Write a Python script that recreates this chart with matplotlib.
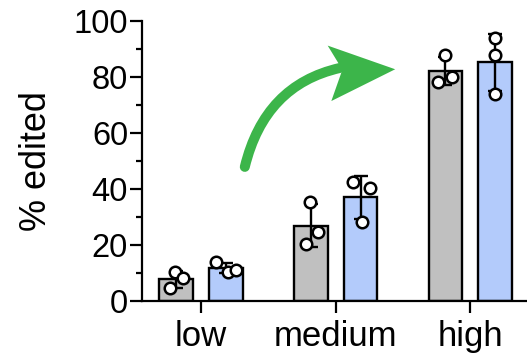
import matplotlib
matplotlib.use("Agg")
import matplotlib.pyplot as plt
import numpy as np
from matplotlib.path import Path
from matplotlib.patches import PathPatch, Polygon

plt.rcParams['font.family'] = ['Liberation Sans', 'DejaVu Sans']

categories = ["low", "medium", "high"]
gray_points = [[10.5, 8.1, 4.5], [35.5, 24.8, 20.5], [87.9, 80.1, 78.3]]
blue_points = [[13.8, 10.5, 11.0], [42.6, 40.2, 28.1], [93.8, 87.9, 73.8]]
gray_jitter = [[-0.007, 0.052, -0.044], [-0.007, 0.052, -0.032], [-0.007, 0.05, -0.052]]
blue_jitter = [[-0.069, 0.013, 0.074], [-0.059, 0.067, 0.007], [0.0, 0.0, 0.0]]
yticks = [0, 20, 40, 60, 80, 100]

gray_color = "#c0c0c0"
blue_color = "#b3cbfb"
green = "#3cb54a"

fig = plt.figure(figsize=(5.27, 3.55), dpi=100)
ax = fig.add_axes([0.2694, 0.152, 0.7306, 0.789])

x = np.arange(len(categories))
off = 0.185
w = 0.25

for pts, jit, sign, col in [(gray_points, gray_jitter, -1, gray_color),
                            (blue_points, blue_jitter, 1, blue_color)]:
    means = [np.mean(p) for p in pts]
    sds = [np.std(p, ddof=1) for p in pts]
    xs = x + sign * off
    ax.bar(xs, means, width=w, color=col, edgecolor="black", linewidth=1.7, zorder=2)
    ax.errorbar(xs, means, yerr=sds, fmt="none", ecolor="black", elinewidth=1.7,
                capsize=5, capthick=1.7, zorder=3)
    for i in range(len(categories)):
        ax.plot(xs[i] + np.array(jit[i]), pts[i], "o", ms=8.3, mfc="white",
                mec="black", mew=1.8, zorder=4, clip_on=False)

ax.set_xlim(-0.437, 2.42)
ax.set_ylim(0, 100)
ax.set_yticks(yticks)
ax.set_yticks(np.arange(10, 100, 20), minor=True)
ax.set_xticks(x)
ax.set_xticklabels(categories)
ax.tick_params(axis="both", which="major", width=1.6, length=8.5)
ax.tick_params(axis="y", which="major", pad=1.5, labelsize=23.5)
ax.tick_params(axis="x", which="major", pad=5, labelsize=25)
ax.tick_params(axis="y", which="minor", width=1.6, length=4.5)
ax.set_ylabel("% edited", fontsize=26, labelpad=14)
for s in ["top", "right"]:
    ax.spines[s].set_visible(False)
for s in ["left", "bottom"]:
    ax.spines[s].set_linewidth(1.6)

# curved green arrow (annotation)
verts = [(0.326, 47.9), (0.474, 77.1), (1.03, 83.2)]
path = Path(verts, [Path.MOVETO, Path.CURVE3, Path.CURVE3])
ax.add_patch(PathPatch(path, facecolor="none", edgecolor=green, lw=7.2,
                       capstyle="round", zorder=5, clip_on=False))
head = Polygon([(1.442, 82.75), (0.941, 91.2), (1.05, 82.6), (0.968, 71.4)],
               closed=True, facecolor=green, edgecolor="none", zorder=5, clip_on=False)
ax.add_patch(head)

fig.savefig("out.png", dpi=100)
